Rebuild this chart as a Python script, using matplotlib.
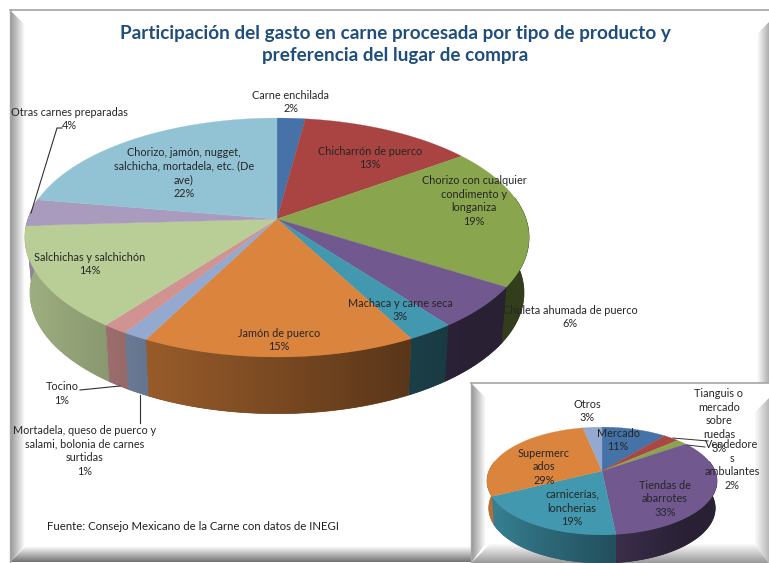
import numpy as np
import matplotlib
matplotlib.use("Agg")
import matplotlib.pyplot as plt
from matplotlib.patches import Polygon

plt.rcParams['font.family'] = ['Lato', 'DejaVu Sans']

# Main pie
main_names = ["Carne enchilada", "Chicharrón de puerco", "Chorizo con cualquier\ncondimento y\nlonganiza",
              "Chuleta ahumada de puerco", "Machaca y carne seca", "Jamón de puerco",
              "Mortadela, queso de puerco y\nsalami, bolonia de carnes\nsurtidas", "Tocino",
              "Salchichas y salchichón", "Otras carnes preparadas",
              "Chorizo, jamón, nugget,\nsalchicha, mortadela, etc. (De\nave)"]
main_values = [2.1, 12.9, 19.0, 5.7, 2.6, 15.2, 1.4, 1.4, 13.8, 3.6, 22.3]
main_colors = ["#4672A8", "#A94442", "#89A54E", "#71588F", "#4198AF", "#DB843D",
               "#93A9CF", "#D19392", "#B9CD96", "#A99BBD", "#92C3D5"]
main_label_xy = [(291, 102), (370, 158), (474, 201), (570, 317), (400, 310), (279, 340),
                 (85, 451), (62, 393.5), (90, 264), (69, 119), (184, 173)]

# Small pie
small_names = ["Mercado", "Tianguis o\nmercado\nsobre\nruedas", "Vendedore\ns\nambulantes",
               "Tiendas de\nabarrotes", "carnicerías,\nloncherias", "Supermerc\nados", "Otros"]
small_values = [10.9, 2.6, 1.8, 33.1, 19.2, 29.2, 3.2]
small_colors = ["#4572A7", "#AA4643", "#89A54E", "#71588F", "#4198AF", "#DB843D", "#93A9CF"]
small_label_xy = [(618, 440), (719, 421), (732, 465), (665, 499), (572, 508), (544, 467), (587, 411)]

title = "Participación del gasto en carne procesada por tipo de producto y\npreferencia del lugar de compra"
source = "Fuente: Consejo Mexicano de la Carne con datos de INEGI"

fig = plt.figure(figsize=(7.69, 5.63), dpi=100)
ax = fig.add_axes([0, 0, 1, 1])
ax.set_xlim(0, 769)
ax.set_ylim(563, 0)
ax.axis('off')
ax.set_autoscale_on(False)


def gradient(x0, x1, y0, y1, g0, g1, horizontal, clip, z):
    # grey ramp clipped to a bevel polygon
    ramp = np.linspace(g0, g1, 64)
    img = ramp[None, :] if horizontal else ramp[:, None]
    im = ax.imshow(img, extent=(x0, x1, y1, y0), cmap='gray', vmin=0, vmax=1,
                   aspect='auto', zorder=z, interpolation='bilinear')
    im.set_clip_path(Polygon(clip, transform=ax.transData))


def frame(x0, y0, x1, y1, left, right, bottom, grey_r, grey_b, z):
    ax.add_patch(Polygon([(x0, y0), (x1, y0), (x1, y1), (x0, y1)], fc='white', ec='none', zorder=z))
    gradient(x0, x0 + left, y0, y1, 0.58, 1, True,
             [(x0, y0), (x0 + left, y0 + left), (x0 + left, y1 - bottom), (x0, y1)], z + 0.1)
    gradient(x1 - right, x1, y0, y1, 1, grey_r, True,
             [(x1, y0 + right), (x1 - right, y0 + 2 * right), (x1 - right, y1 - bottom), (x1, y1)], z + 0.1)
    gradient(x0, x1, y1 - bottom, y1, 1, grey_b, False,
             [(x0, y1), (x0 + bottom, y1 - bottom), (x1 - right, y1 - bottom), (x1, y1)], z + 0.1)
    ax.plot([x0, x1], [y0, y0], color='#a6a6a6', lw=1.2, zorder=z + 0.2)
    ax.plot([x0, x0], [y0, y1], color='#a6a6a6', lw=1, zorder=z + 0.2)


def shade(x):
    # side wall is lit from the left
    return np.interp(x, [-1, -0.55, 0.5, 0.75, 1], [0.85, 0.70, 0.42, 0.37, 0.37])


def pie3d(values, colors, cx, cy, R, S, k, sx, cy2, S2, z):
    def rim(a, scale_x=1.0, yc=cy, sy=S):
        x, y = np.sin(a), -np.cos(a)
        d = 1 - k * y
        return cx + R * scale_x * x / d, yc + sy * y / d

    fracs = np.array(values, dtype=float)
    edges = np.concatenate([[0], np.cumsum(fracs) / fracs.sum()]) * 2 * np.pi
    for i, c in enumerate(colors):
        rgb = np.array(matplotlib.colors.to_rgb(c))
        a = np.linspace(edges[i], edges[i + 1], 80)
        a = a[np.cos(a) < 0.2]
        if len(a) < 2:
            continue
        xt, yt = rim(a)
        xb, yb = rim(a[::-1], sx, cy2, S2)
        outline = np.c_[np.r_[xt, xb], np.r_[yt, yb]]
        x0, x1 = outline[:, 0].min(), outline[:, 0].max()
        y0, y1 = outline[:, 1].min(), outline[:, 1].max()
        mean_col = rgb * shade((0.5 * (x0 + x1) - cx) / R)
        ax.add_patch(Polygon(outline, fc=mean_col, ec=mean_col, lw=0.5, zorder=z))
        # shading runs left to right along the wall
        px = np.linspace(x0, x1, 64)
        img = rgb[None, None, :] * shade((px - cx) / R)[None, :, None]
        im = ax.imshow(np.clip(img, 0, 1), extent=(x0, x1, y1, y0), aspect='auto',
                       zorder=z + 0.1, interpolation='bilinear')
        im.set_clip_path(Polygon(outline, transform=ax.transData))
    for i, c in enumerate(colors):
        a = np.linspace(edges[i], edges[i + 1], 80)
        xt, yt = rim(a)
        ax.fill(np.r_[cx, xt], np.r_[cy, yt], fc=c, ec=c, lw=0.2, zorder=z + 0.5)


def labels(names, values, xy, z, size):
    for name, v, (x, y) in zip(names, values, xy):
        ax.text(x, y, f"{name}\n{v:.0f}%", ha='center', va='center', fontsize=size,
                color='#262626', linespacing=1.3, zorder=z)


# outer frame and big pie
frame(10, 10, 769, 562, 15, 12, 16, 0.68, 0.45, 1)
pie3d(main_values, main_colors, 277, 219, 249, 116.6, 0.155, 0.98, 274, 118, 2)
labels(main_names, main_values, main_label_xy, 4, 7.8)

for xs, ys in [([31, 57, 62], [213, 128, 128]), ([80, 120], [390, 386]), ([140, 140], [395, 423])]:
    ax.plot(xs, ys, color='#303030', lw=0.8, zorder=3.5)

ax.text(395, 44.5, title, ha='center', va='center', fontsize=13.6, fontweight='bold',
        color='#1F4E7D', linespacing=1.38, zorder=4)
ax.text(47, 527, source, ha='left', va='center', fontsize=8.2, color='#202020', zorder=4)

# inset frame and small pie
frame(471, 383, 769, 563, 15, 15, 20, 0.72, 0.6, 5)
pie3d(small_values, small_colors, 602, 471, 113, 52, 0.185, 0.985, 498, 53, 6)
labels(small_names, small_values, small_label_xy, 8, 7.8)
for xs, ys in [([673, 708], [438, 441]), ([687, 705], [445, 447])]:
    ax.plot(xs, ys, color='#303030', lw=0.7, zorder=7)

fig.savefig('out.png', dpi=100)
